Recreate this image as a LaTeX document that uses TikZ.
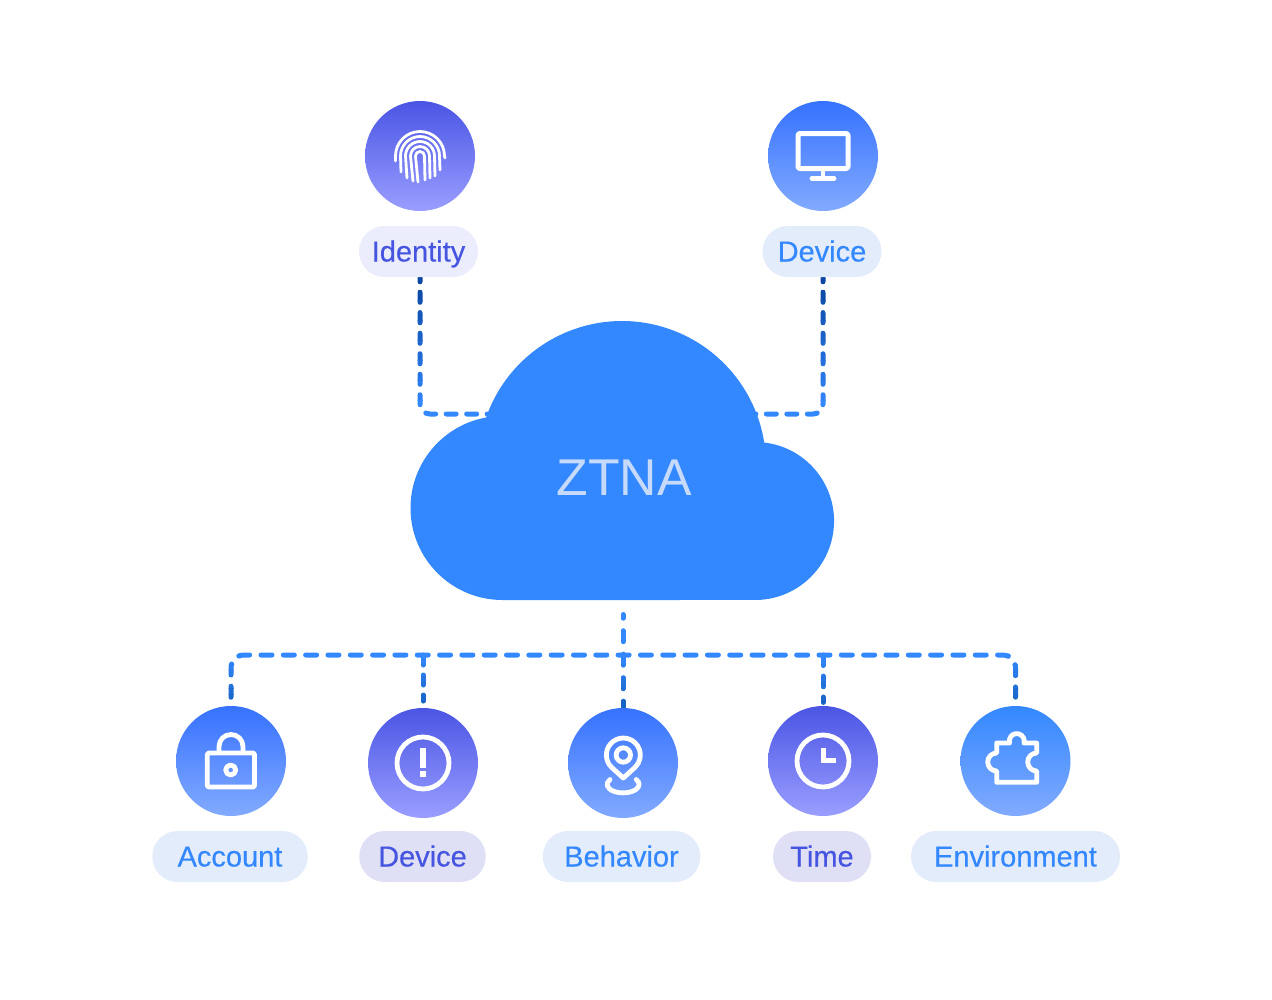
\documentclass[tikz,border=0pt]{standalone}
\usepackage{fontspec}
\setmainfont{Liberation Sans}
\newfontfamily\pillfont[FakeBold=0.35]{Liberation Sans}
\usetikzlibrary{backgrounds}

\definecolor{skyblue}{HTML}{3388FF}
\definecolor{indigo}{HTML}{4655E0}
\definecolor{ztnatext}{HTML}{C6DAFC}
\definecolor{linkblue}{HTML}{3388FF}
\definecolor{linkdeep}{HTML}{0B47A2}
\definecolor{linkmid}{HTML}{1764C4}
\definecolor{pillblue}{HTML}{E3ECFB}
\definecolor{pillpale}{HTML}{ECEDFC}
\definecolor{pillgrey}{HTML}{DFDFF5}
\definecolor{blueA}{HTML}{3672FF}
\definecolor{blueB}{HTML}{82AAFF}
\definecolor{indigoA}{HTML}{4A55E4}
\definecolor{indigoB}{HTML}{9A9EFF}

\tikzset{
	ball/.style={circle,minimum size=82.5pt,inner sep=0pt},
	blueball/.style={ball,top color=blueA,bottom color=blueB},
	greenball/.style={ball,top color=skyblue,bottom color=blueB},
	indigoball/.style={ball,top color=indigoA,bottom color=indigoB},
	pill/.style={rectangle,rounded corners=19pt,minimum height=38.25pt,inner sep=0pt,
		minimum width=#1*0.75pt,text height=20pt,text depth=5pt,font=\pillfont\fontsize{21.75}{24}\selectfont},
	link/.style={line width=3.75pt,line cap=round,dash pattern=on 8.25pt off 8.49pt},
	glyph/.style={draw=white,line width=3.6pt,line join=round},
	ridge/.style={draw=white,line width=2.1pt,line cap=round}
}

\begin{document}
\begin{tikzpicture}[x=0.75pt,y=0.75pt,yscale=-1]
	\useasboundingbox (0,0) rectangle (1272,1000);
	\fill[skyblue] (502.5,600) arc[start angle=90,end angle=259.7,radius=92]
		-- (486.2,417.2) arc[start angle=199.4,end angle=350.8,radius=144]
		-- (764,442.5) arc[start angle=276.5,end angle=450,radius=79] -- cycle;
	\draw (624,478) node[text=ztnatext,font=\fontsize{38.8}{40}\selectfont] (ztna) {ZTNA};
	\coordinate (cloudL) at (500,414);
	\coordinate (cloudR) at (745,414);
	\coordinate (cloudB) at (623,614.5);
	\coordinate (bus) at (623,655);
	\draw (420,156) node[indigoball] (identity) {};
	\draw (823,156) node[blueball] (device) {};
	\draw (231,761) node[blueball] (account) {};
	\draw (423,763) node[indigoball] (alert) {};
	\draw (623,763) node[blueball] (behavior) {};
	\draw (823,761) node[indigoball] (time) {};
	\draw (1015.5,761) node[greenball] (environment) {};
	\draw (418.5,251.5) node[pill=119,fill=pillpale,text=indigo] (identityLabel) {Identity};
	\draw (822,251.5) node[pill=119,fill=pillblue,text=skyblue] (deviceLabel) {Device};
	\draw (230,856.5) node[pill=155.5,fill=pillblue,text=skyblue] (accountLabel) {Account};
	\draw (422.5,856.5) node[pill=126.5,fill=pillgrey,text=indigo] (alertLabel) {Device};
	\draw (621.5,856.5) node[pill=157.5,fill=pillblue,text=skyblue] (behaviorLabel) {Behavior};
	\draw (822,856.5) node[pill=98,fill=pillgrey,text=indigo] (timeLabel) {Time};
	\draw (1015.5,856.5) node[pill=209,fill=pillblue,text=skyblue] (environmentLabel) {Environment};
	\begin{scope}[on background layer]
		\foreach \ya/\yb/\tone in {270/290/100,290/300/92,300/310/84,310/320/76,320/330/68,330/340/60,340/350/52,350/360/44,360/370/36,370/380/28,380/390/20,390/400/12,400/420/0} {
			\begin{scope}
				\clip (0,\ya) rectangle (1272,\yb+0.4);
				\draw[link,linkdeep!\tone!linkblue,rounded corners=7.5pt,dash pattern=on 7.5pt off 7.875pt,dash phase=4.125pt] (identityLabel.south-|identity) -- (identity|-cloudL) -- (cloudL);
				\draw[link,linkdeep!\tone!linkblue,rounded corners=7.5pt,dash pattern=on 7.5pt off 7.875pt,dash phase=4.125pt] (deviceLabel.south-|device) -- (device|-cloudR) -- (cloudR);
			\end{scope}
		}
		\foreach \ya/\yb/\tone in {600/658/0,658/664/12,664/670/25,670/676/37,676/682/50,682/688/62,688/694/75,694/700/87,700/712/100} {
			\begin{scope}
				\clip (0,\ya) rectangle (1272,\yb+0.4);
				\draw[link,linkmid!\tone!linkblue,rounded corners=9pt,shorten <=6.375pt,shorten >=6.375pt] (account.north) -- (account.north|-bus) -- (environment.north|-bus) -- (environment.north);
				\draw[link,linkmid!\tone!linkblue,dash pattern=on 7.5pt off 7.5pt,shorten >=5pt] (alert.north|-bus) -- (alert.north);
				\draw[link,linkmid!\tone!linkblue,dash pattern=on 8.25pt off 9.375pt,dash phase=3.375pt] (behavior.north) -- (cloudB);
				\draw[link,linkmid!\tone!linkblue,dash pattern=on 7.9pt off 7.9pt,shorten >=2.5pt] (time.north|-bus) -- (time.north);
			\end{scope}
		}
	\end{scope}
	\foreach \r/\xl/\yl/\xr/\yr in {24.5/395.5/161/445/158,19.5/401/172/440/170,14.5/407/178/435/176,9.5/413/181/430/178,4.5/418/182/425/180}
		\draw[ridge] (\xl,\yl) -- (420-\r,156) arc[start angle=180,end angle=360,radius=\r] -- (\xr,\yr);
	\draw[glyph,line width=3.75pt,rounded corners=1.5pt] (798,133.5) rectangle (848,168.5);
	\draw[glyph] (823,170) -- (823,178);
	\draw[glyph,line cap=round] (812,178.5) -- (834,178.5);
	\draw[glyph,rounded corners=1pt] (207.3,753) rectangle (254.5,787);
	\draw[glyph] (219,752) -- (219,746.5) arc[start angle=180,end angle=360,radius=12] -- (243,752);
	\draw[glyph] (230.7,770) circle[radius=5];
	\draw[glyph] (423,763) circle[radius=26];
	\draw[glyph,line width=4.9pt] (423,748) -- (423,768);
	\draw[glyph,line width=4.9pt] (423,771) -- (423,777);
	\draw[glyph] (823,761) circle[radius=26];
	\draw[glyph,line width=4.4pt,line join=miter] (823.5,748) -- (823.5,760.5) -- (836,760.5);
	\draw[glyph] (623.3,778) -- (611.9,767.6) arc[start angle=132.3,end angle=407.7,radius=17] -- cycle;
	\draw[glyph] (623.3,755) circle[radius=7.2];
	\draw[glyph,line cap=round] (610,779.5) arc[start angle=215,end angle=-35,x radius=16,y radius=8.5];
	\draw[glyph] (996.7,782.3) -- (1036.7,782.3) -- (1036.7,771) arc[start angle=90,end angle=270,radius=9] -- (1036.7,743) -- (1024,743) arc[start angle=15,end angle=-195,radius=7.5] -- (996.7,743) -- (996.7,753) arc[start angle=-90,end angle=-270,radius=9] -- cycle;
\end{tikzpicture}
\end{document}
